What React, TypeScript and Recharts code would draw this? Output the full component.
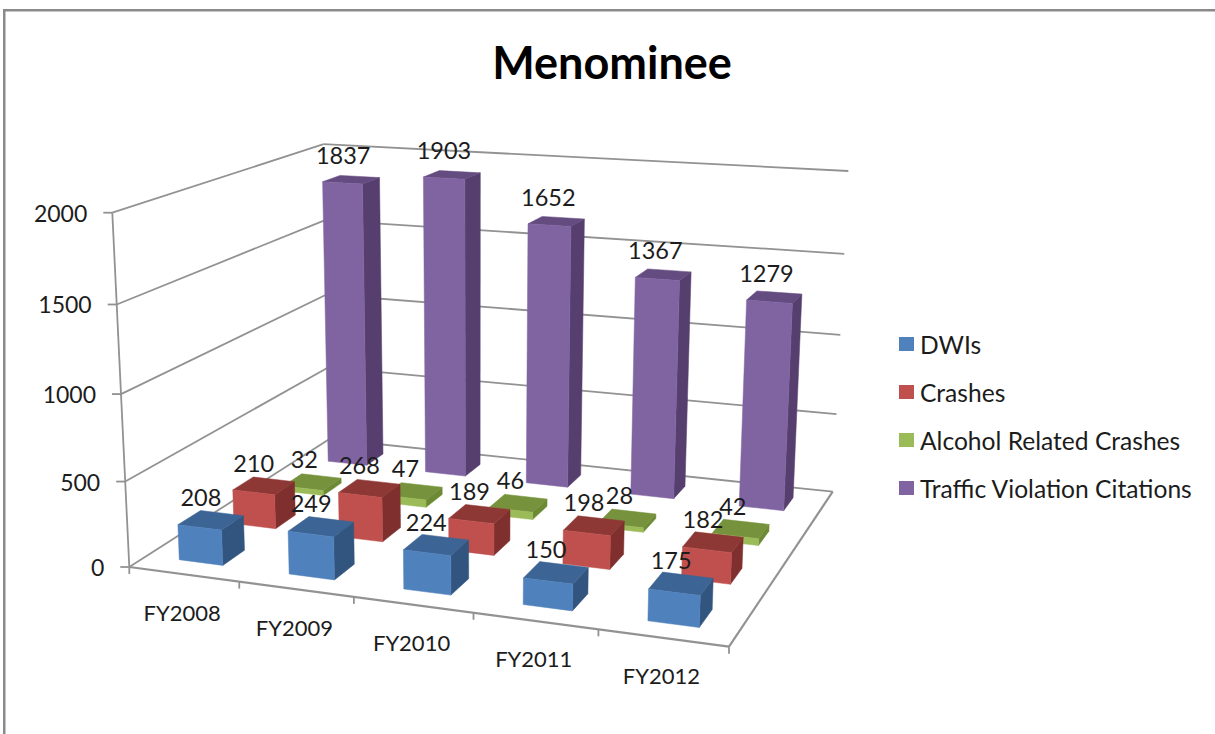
import React from "react";
import { BarChart, Bar, XAxis, YAxis, Legend, LabelList, Customized } from "recharts";

const YEARS = ["FY2008", "FY2009", "FY2010", "FY2011", "FY2012"];
const DWIS = [208, 249, 224, 150, 175];
const CRASHES = [210, 268, 189, 198, 182];
const ALCOHOL = [32, 47, 46, 28, 42];
const CITATIONS = [1837, 1903, 1652, 1367, 1279];
const Y_TICKS = [0, 500, 1000, 1500, 2000];
const Y_MAX = 2000;

const rows = YEARS.map((year, i) => ({
  year,
  "DWIs": DWIS[i],
  "Crashes": CRASHES[i],
  "Alcohol Related Crashes": ALCOHOL[i],
  "Traffic Violation Citations": CITATIONS[i],
}));

const LEGEND_ORDER = ["DWIs", "Crashes", "Alcohol Related Crashes", "Traffic Violation Citations"];
const FONT = "Lato, 'Open Sans', sans-serif";
const GREY = "#929292";
const INK = "#1c1c1c";

// Perspective of the chart's box: floor corners, and top corners used to fit the height axis.
const FBL = [129.3, 567];
const FBR = [729, 646.7];
const BBR = [832.7, 491.7];
const BBL = [329.5, 439];
const FTL = [112.3, 212.7];
const BTR = [848.3, 172.3];

const cam = (() => {
  const [x0, y0] = FBL, [x1, y1] = FBR, [x2, y2] = BBR, [x3, y3] = BBL;
  const dx1 = x1 - x2, dx2 = x3 - x2, dy1 = y1 - y2, dy2 = y3 - y2;
  const sx = x0 - x1 + x2 - x3, sy = y0 - y1 + y2 - y3;
  const det = dx1 * dy2 - dx2 * dy1;
  const g = (sx * dy2 - dx2 * sy) / det;
  const h = (dx1 * sy - sx * dy1) / det;
  const a = x1 - x0 + g * x1, b = x3 - x0 + h * x3, c = x0;
  const d = y1 - y0 + g * y1, e = y3 - y0 + h * y3, f = y0;
  const w11 = 1 + g + h;
  const C = (a + b + FTL[0] - BTR[0] * w11) / (BTR[0] - FTL[0]);
  const A = FTL[0] * (1 + C) - c;
  const B = FTL[1] * (1 + C) - f;
  return { a, b, c, d, e, f, g, h, A, B, C };
})();

// u along categories, v into depth, t up the value axis; all 0..1
function project(u: number, v: number, t: number): [number, number] {
  const { a, b, c, d, e, f, g, h, A, B, C } = cam;
  const w = g * u + h * v + 1 + C * t;
  return [(a * u + b * v + c + A * t) / w, (d * u + e * v + f + B * t) / w];
}

const pts = (list: [number, number][]) => list.map((p) => p.map((n) => n.toFixed(1)).join(",")).join(" ");
const uCenter = (i: number) => (i + 0.5) / YEARS.length;
const vCenter = (s: number) => (s + 0.5) / LEGEND_ORDER.length;
const U_HALF = 0.04;
const V_HALF = 0.05;

function makeBox(depth: number, front: string, top: string, side: string) {
  return (props: any) => {
    const { index, height, background, value } = props;
    const t = background && background.height ? height / background.height : value / Y_MAX;
    const u0 = uCenter(index) - U_HALF, u1 = uCenter(index) + U_HALF;
    const v0 = vCenter(depth) - V_HALF, v1 = vCenter(depth) + V_HALF;
    const f = pts([project(u0, v0, 0), project(u1, v0, 0), project(u1, v0, t), project(u0, v0, t)]);
    const s = pts([project(u1, v0, 0), project(u1, v1, 0), project(u1, v1, t), project(u1, v0, t)]);
    const o = pts([project(u0, v0, t), project(u1, v0, t), project(u1, v1, t), project(u0, v1, t)]);
    return (
      <g>
        <polygon points={s} fill={side} stroke={side} strokeWidth={0.5} />
        <polygon points={o} fill={top} stroke={top} strokeWidth={0.5} />
        <polygon points={f} fill={front} stroke={front} strokeWidth={0.5} />
      </g>
    );
  };
}

function makeLabel(depth: number) {
  const dx = depth < 2 ? -10 : -8;
  return (props: any) => {
    const { index, value } = props;
    const t = value / Y_MAX;
    const [x, y] = project(uCenter(index), vCenter(depth), t);
    return (
      <text x={x + dx} y={y - 23 - 2 * t} textAnchor="middle" dominantBaseline="central" fontFamily={FONT} fontSize={23.5} fill={INK}>
        {value}
      </text>
    );
  };
}

function line(p: [number, number], q: [number, number], key: string, w = 1.8, color = GREY) {
  return <line key={key} x1={p[0]} y1={p[1]} x2={q[0]} y2={q[1]} stroke={color} strokeWidth={w} />;
}

function Frame() {
  const parts: React.ReactNode[] = [];
  Y_TICKS.forEach((tick) => {
    const t = tick / Y_MAX;
    if (t > 0) {
      parts.push(line(project(0, 0, t), project(0, 1, t), `l${tick}`));
      parts.push(line(project(0, 1, t), project(1, 1, t), `r${tick}`));
    }
  });
  parts.push(line(project(0, 0, 0), project(0, 0, 1), "axis"));
  parts.push(line(project(0, 0, 0), project(1, 0, 0), "fr", 2.2));
  parts.push(line(project(1, 0, 0), project(1, 1, 0), "rt", 2.2));
  parts.push(line(project(0, 0, 0), project(0, 1, 0), "lf"));
  parts.push(line(project(0, 1, 0), project(1, 1, 0), "bk"));
  YEARS.concat("end").forEach((_, i) => {
    const [x, y] = project(i / YEARS.length, 0, 0);
    parts.push(line([x, y], [x, y + 7], `t${i}`));
  });
  return (
    <g>
      <rect x={3} y={9} width={1212} height={2.5} fill="#8a8a8a" />
      <rect x={3} y={9} width={2.5} height={725} fill="#8a8a8a" />
      <text x={612} y={62} textAnchor="middle" dominantBaseline="central" fontFamily={FONT} fontWeight={700} fontSize={45} fill="#000">
        Menominee
      </text>
      {parts}
    </g>
  );
}

function YTick(props: any) {
  const t = props.payload.value / Y_MAX;
  const [x, y] = project(0, 0, t);
  return (
    <g>
      <line x1={x - 9} y1={y} x2={x} y2={y} stroke={GREY} strokeWidth={1.8} />
      <text x={x - 25} y={y} textAnchor="end" dominantBaseline="central" fontFamily={FONT} fontSize={23} fill={INK}>
        {props.payload.value}
      </text>
    </g>
  );
}

function XTick(props: any) {
  const [x, y] = project(uCenter(props.index), 0, 0);
  return (
    <text x={x - 1.5} y={y + 38} textAnchor="middle" dominantBaseline="central" fontFamily={FONT} fontSize={22} fill={INK}>
      {props.payload.value}
    </text>
  );
}

function LegendBox(props: any) {
  const items = [...(props.payload || [])].sort(
    (p: any, q: any) => LEGEND_ORDER.indexOf(p.value) - LEGEND_ORDER.indexOf(q.value)
  );
  return (
    <div style={{ width: 300 }}>
      {items.map((it: any) => (
        <div key={it.value} style={{ height: 48, display: "flex", alignItems: "center", fontFamily: FONT, fontSize: 24.6, color: INK, whiteSpace: "nowrap" }}>
          <span style={{ width: 14.5, height: 14.5, background: it.color, marginRight: 6.5, flex: "none" }} />
          {it.value}
        </div>
      ))}
    </div>
  );
}

export default function App() {
  return (
    <div style={{ position: "absolute", left: 0, top: 0, width: 1215, height: 734, background: "#fff", overflow: "hidden" }}>
      <BarChart width={1215} height={734} data={rows} margin={{ top: 150, right: 20, bottom: 40, left: 20 }}>
        <Customized component={Frame} />
        <XAxis dataKey="year" axisLine={false} tickLine={false} interval={0} tick={XTick} />
        <YAxis domain={[0, Y_MAX]} ticks={Y_TICKS} axisLine={false} tickLine={false} interval={0} tick={YTick} />
        <Legend
          content={LegendBox}
          layout="vertical"
          align="right"
          verticalAlign="top"
          wrapperStyle={{ position: "absolute", left: 899, top: 320, width: 300 }}
        />
        <Bar dataKey="Traffic Violation Citations" fill="#8064A2" isAnimationActive={false} shape={makeBox(3, "#8064A2", "#644B80", "#563F6E")}>
          <LabelList dataKey="Traffic Violation Citations" content={makeLabel(3)} />
        </Bar>
        <Bar dataKey="Alcohol Related Crashes" fill="#9BBB59" isAnimationActive={false} shape={makeBox(2, "#9BBB59", "#76923C", "#6B8A33")}>
          <LabelList dataKey="Alcohol Related Crashes" content={makeLabel(2)} />
        </Bar>
        <Bar dataKey="Crashes" fill="#C0504D" isAnimationActive={false} shape={makeBox(1, "#C0504D", "#8E3836", "#7F2F2D")}>
          <LabelList dataKey="Crashes" content={makeLabel(1)} />
        </Bar>
        <Bar dataKey="DWIs" fill="#4F81BD" isAnimationActive={false} shape={makeBox(0, "#4F81BD", "#3C6494", "#32557F")}>
          <LabelList dataKey="DWIs" content={makeLabel(0)} />
        </Bar>
      </BarChart>
    </div>
  );
}
